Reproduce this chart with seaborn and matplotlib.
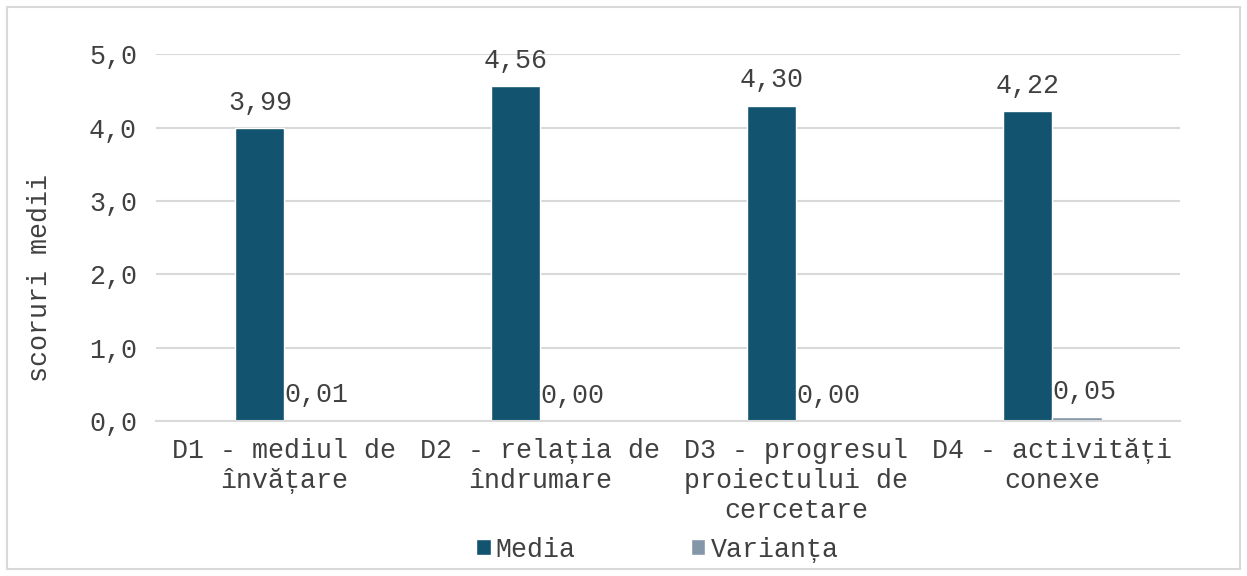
import pandas as pd
import numpy as np
import matplotlib
matplotlib.use("Agg")
import matplotlib.pyplot as plt
from matplotlib.ticker import FuncFormatter
from matplotlib.patches import Rectangle
import seaborn as sns

categories = ["D1 - mediul de\nînvățare", "D2 - relația de\nîndrumare",
              "D3 - progresul\nproiectului de\ncercetare", "D4 - activități\nconexe"]
media = [3.99, 4.56, 4.30, 4.22]
varianta = [0.01, 0.00, 0.00, 0.05]
series = ["Media", "Varianța"]
colors = ["#12536F", "#8497A8"]

df = pd.DataFrame({
    "cat": categories * 2,
    "serie": [series[0]] * 4 + [series[1]] * 4,
    "val": media + varianta,
})

sns.set_style("white")
plt.rcParams["font.family"] = ["Liberation Mono", "DejaVu Sans Mono"]
fs = 19.2
txt = "#404040"

fig = plt.figure(figsize=(12.47, 5.76), dpi=100)
ax = fig.add_axes([0.1255, 0.269, 0.821, 0.637])

sns.barplot(data=df, x="cat", y="val", hue="serie", palette=colors,
            width=0.385, gap=0, ax=ax, saturation=1)

ax.set_ylim(0, 5)
ax.set_yticks(np.arange(0, 5.1, 1))
ax.yaxis.set_major_formatter(FuncFormatter(lambda v, p: f"{v:.1f}".replace(".", ",")))
ax.grid(axis="y", color="#D9D9D9", lw=1.5)
ax.set_axisbelow(True)
for s in ["top", "right", "left"]:
    ax.spines[s].set_visible(False)
ax.spines["bottom"].set_color("#D9D9D9")
ax.spines["bottom"].set_linewidth(1.5)
ax.tick_params(axis="both", length=0, labelsize=fs, colors=txt)
ax.tick_params(axis="y", pad=14)
ax.tick_params(axis="x", pad=12)
for lab in ax.get_xticklabels():
    lab.set_linespacing(1.2)
ax.set_xlabel("")
ax.set_ylabel("")
fig.text(40 / 1247, 1 - 278 / 576, "scoruri medii", rotation=90, ha="center",
         va="center", fontsize=fs, color=txt)

for i, cont in enumerate(ax.containers):
    anns = ax.bar_label(cont, labels=[f"{b.get_height():.2f}".replace(".", ",") for b in cont],
                        fontsize=fs, color=txt, padding=9)
    if i == 1:
        for a in anns:
            a.xyann = (5, 9)

ax.legend(loc="lower center", bbox_to_anchor=(0.527, 0.0), bbox_transform=fig.transFigure,
          ncol=2, frameon=False, fontsize=fs, handlelength=0.55, handleheight=0.55,
          handletextpad=0.2, columnspacing=4.3, borderaxespad=0.1)
for t in ax.get_legend().get_texts():
    t.set_color(txt)

fig.patches.append(Rectangle((0.006, 0.012), 0.988, 0.976, transform=fig.transFigure,
                             fill=False, edgecolor="#D9D9D9", lw=1.5))

fig.savefig("out.png", dpi=100)
